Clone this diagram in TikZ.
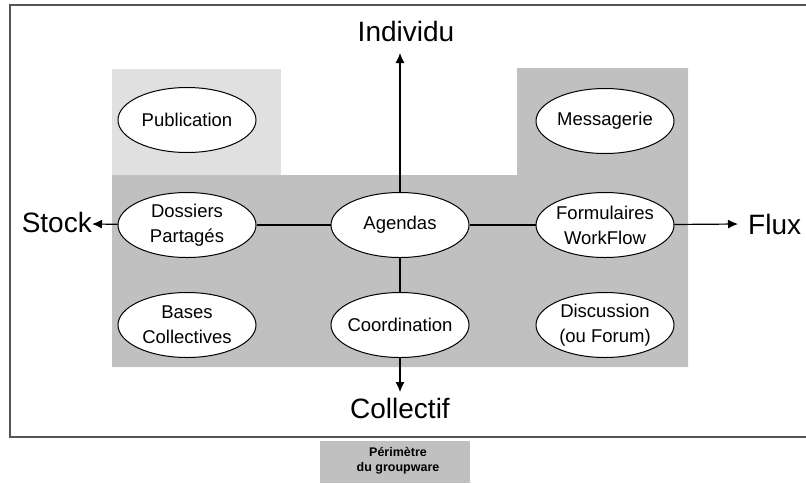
\documentclass[tikz,border=0pt]{standalone}
\usepackage{fontspec}
\setmainfont{Liberation Sans}
\usetikzlibrary{shapes.geometric,arrows.meta}
\definecolor{zonelight}{HTML}{E0E0E0}
\definecolor{zonedark}{HTML}{C0C0C0}
\definecolor{framegray}{HTML}{555555}
\tikzstyle{outil}=[ellipse, draw, fill=white, line width=1pt, minimum width=138pt, minimum height=65pt, inner xsep=-6pt, inner ysep=0pt, align=center, font=\fontsize{18.5}{25}\selectfont]
\tikzstyle{axe}=[font=\fontsize{28}{30}\selectfont, inner sep=0pt]
\tikzstyle{fleche}=[line width=1.2pt, -{Latex[length=10pt,width=9pt]}]
\tikzstyle{trait}=[line width=1.2pt]

\begin{document}
\begin{tikzpicture}[x=1pt, y=-1pt]
		   \useasboundingbox (0,0) rectangle (806,483);
		   \begin{scope}
			   % zones
			   \fill[zonelight] (112,69) rectangle (281,175);
			   \fill[zonedark] (112,175) -- (517,175) -- (517,68) -- (688,68) -- (688,367) -- (112,367) -- cycle;
			   \draw[framegray, line width=1.5pt] (806,5) -- (10,5) -- (10,437) -- (806,437);
			   \fill[zonedark] (320,441) rectangle (470,483);
			   \node (leg) at (398,461) [align=center, font=\fontsize{12.5}{15}\selectfont\bfseries] {Périmètre\\du groupware};
		   \end{scope}
		   \begin{scope}
			   \node (pub) at (187,120)[outil] {Publication};
			   \node (mes) at (605,121)[outil] {Messagerie};
			   \node (dos) at (187,225)[outil] {Dossiers\\Partagés};
			   \node (ag) at (400,225)[outil] {Agendas};
			   \node (form) at (605,225)[outil] {Formulaires\\WorkFlow};
			   \node (bas) at (187,325)[outil] {Bases\\Collectives};
			   \node (coo) at (400,325)[outil] {Coordination};
			   \node (dis) at (605,325)[outil] {Discussion\\(ou Forum)};

			   \node (ind) at (406,31)[axe] {Individu};
			   \node (col) at (400,408)[axe] {Collectif};
			   \node (sto) at (92,222)[axe, anchor=east] {Stock};
			   \node (flu) at (748,224)[axe, anchor=west] {Flux};

			   \coordinate (indtip) at (400,53);
			   \coordinate (coltip) at (400,392);
			   \coordinate (stotip) at (92,224);
			   \coordinate (flutip) at (738,224);
		   \end{scope}
		   \begin{scope}
			   \path [trait] (dos) edge (ag);
			   \path [trait] (ag) edge (form);
			   \path [trait] (ag) edge (coo);

			   \path [fleche] (ag) edge (indtip);
			   \path [fleche] (coo) edge (coltip);
			   \path [fleche] (dos) edge (stotip);
			   \path [fleche] (form) edge (flutip);
		   \end{scope}
\end{tikzpicture}
\end{document}
